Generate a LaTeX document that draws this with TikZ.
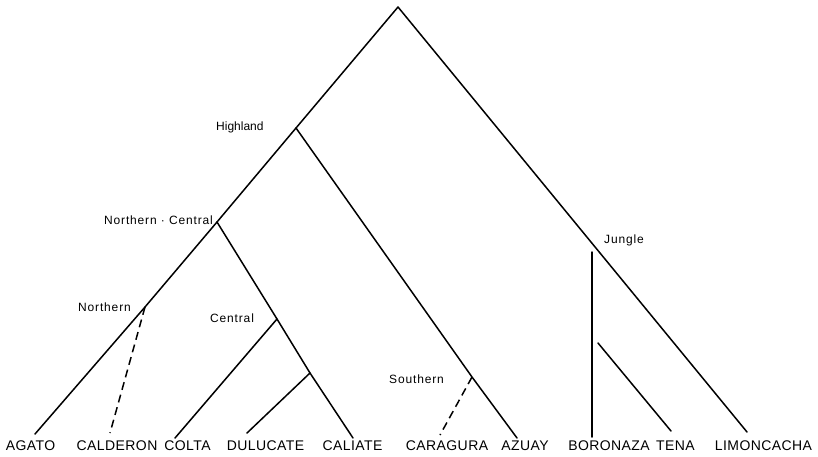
\documentclass[tikz,border=0pt]{standalone}
\usepackage{fontspec}
\setmainfont{Liberation Sans}
\newfontfamily\leaffont[LetterSpace=3]{Liberation Sans}
\newfontfamily\cladefont[LetterSpace=7]{Liberation Sans}
\begin{document}
\begin{tikzpicture}[x=1pt,y=-1pt,
  branch/.style={line width=1.5pt, line cap=round, line join=round},
  dbranch/.style={line width=1.5pt, dash pattern=on 8pt off 5pt},
  leaf/.style={inner sep=0pt, anchor=base, font=\leaffont\fontsize{14}{14}\selectfont},
  clade/.style={inner sep=0pt, font=\cladefont\fontsize{12}{12}\selectfont},
]
\useasboundingbox (0,0) rectangle (818,456);
% branch points
\coordinate (root) at (398,7);
\coordinate (hi) at (296,128);
\coordinate (nc) at (217,222);
\coordinate (no) at (145,307);
\coordinate (ce) at (277,319);
\coordinate (du) at (310,373);
\coordinate (so) at (472,377);
\coordinate (ju) at (592,252);
\coordinate (te) at (598,343);
% leaf ends
\coordinate (agE) at (35,434);
\coordinate (caE) at (110,433);
\coordinate (coE) at (175,438);
\coordinate (duE) at (247,433);
\coordinate (clE) at (353,438);
\coordinate (crE) at (440,435);
\coordinate (azE) at (517,438);
\coordinate (boE) at (592,437);
\coordinate (teE) at (671,431);
\coordinate (liE) at (747,432);
% branches
\draw[branch] (agE) -- (no) -- (nc) -- (hi) -- (root) -- (liE);
\draw[branch] (hi) -- (so) -- (azE);
\draw[branch] (nc) -- (ce) -- (du) -- (clE);
\draw[branch] (ce) -- (coE);
\draw[branch] (du) -- (duE);
\draw[branch] (ju) -- (boE);
\draw[branch] (te) -- (teE);
\draw[dbranch] (no) -- (caE);
\draw[dbranch] (so) -- (crE);
% clade labels
\node[clade, anchor=base west] (lHi) at (216,130) {\fontspec{Liberation Sans}\fontsize{12}{12}\selectfont Highland};
\node[clade, anchor=base east] (lNC) at (213,224) {Northern · Central};
\node[clade, anchor=base west] (lNo) at (78,311) {Northern};
\node[clade, anchor=base west] (lCe) at (210,322) {Central};
\node[clade, anchor=base west] (lSo) at (389,383) {Southern};
\node[clade, anchor=base west] (lJu) at (604,243) {Jungle};
% leaf labels
\node[leaf] (agato) at (30.5,450) {AGATO};
\node[leaf] (calderon) at (117,450) {CALDERON};
\node[leaf] (colta) at (187.5,450) {COLTA};
\node[leaf] (dulucate) at (265.5,450) {DULUCATE};
\node[leaf] (caliate) at (352.5,450) {CALIATE};
\node[leaf] (caragura) at (447,450) {CARAGURA};
\node[leaf] (azuay) at (525,450) {AZUAY};
\node[leaf] (boronaza) at (609,450) {BORONAZA};
\node[leaf] (tena) at (675.5,450) {TENA};
\node[leaf] (limoncacha) at (763.5,450) {LIMONCACHA};
\end{tikzpicture}
\end{document}
